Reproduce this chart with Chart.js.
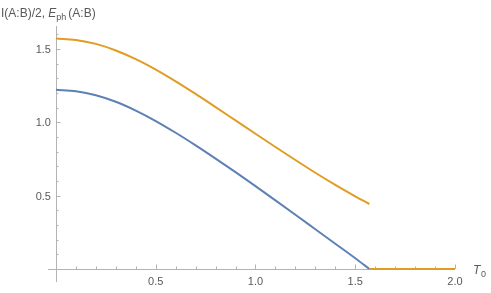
<!DOCTYPE html>
<html>
<head>
<meta charset="utf-8">
<script src="https://cdn.jsdelivr.net/npm/chart.js@4.4.1/dist/chart.umd.min.js"></script>
<style>
  html, body { margin: 0; padding: 0; background: #ffffff; }
  #wrap { width: 491px; height: 293px; }
</style>
</head>
<body>
<div id="wrap"><canvas id="chart" width="491" height="293"></canvas></div>
<script>
// values
const t0 = [0, 0.1, 0.2, 0.3, 0.4, 0.5, 0.6, 0.7, 0.8, 0.9, 1.0, 1.1, 1.2, 1.3, 1.4, 1.5, 1.5708];
const mutualHalf = [1.222, 1.212, 1.185, 1.140, 1.080, 1.009, 0.929, 0.843, 0.753, 0.660, 0.565, 0.468, 0.370, 0.271, 0.172, 0.073, 0];
const ePh = [1.571, 1.562, 1.535, 1.490, 1.431, 1.360, 1.280, 1.194, 1.104, 1.013, 0.922, 0.832, 0.743, 0.656, 0.573, 0.495, 0.443];
const tailT = [1.5708, 2.0];
const tailValues = [0, 0];

const xMajor = [0.5, 1.0, 1.5, 2.0];
const yMajor = [0.5, 1.0, 1.5];

const blue = "#5e81b5";
const orange = "#e19c24";
const axisGray = "#b3b3b3";
const labelGray = "#595959";
const font = "'Liberation Sans', Arial, sans-serif";

const toPoints = (xs, ys) => xs.map((x, i) => ({ x: x, y: ys[i] }));

// orange jumps to zero after t0 = pi/2, keep a gap there
const orangeData = toPoints(t0, ePh).concat([{ x: 1.5708, y: null }], toPoints(tailT, tailValues));
const blueData = toPoints(t0, mutualHalf);

const axesPlugin = {
  id: "mmaAxes",
  beforeDatasetsDraw(chart) {
    const ctx = chart.ctx;
    const xs = chart.scales.x;
    const ys = chart.scales.y;
    const area = chart.chartArea;
    const x0 = xs.getPixelForValue(0);
    const y0 = ys.getPixelForValue(0);

    ctx.save();
    ctx.strokeStyle = axisGray;
    ctx.lineWidth = 1;
    ctx.beginPath();
    ctx.moveTo(area.left, Math.round(y0) + 0.5);
    ctx.lineTo(area.right, Math.round(y0) + 0.5);
    ctx.moveTo(Math.round(x0) + 0.5, area.top);
    ctx.lineTo(Math.round(x0) + 0.5, area.bottom);

    // ticks point into the plot
    for (let i = 1; i <= 20; i++) {
      const v = i / 10;
      const px = Math.round(xs.getPixelForValue(v)) + 0.5;
      const len = i % 5 === 0 ? 4.5 : 2.5;
      ctx.moveTo(px, y0);
      ctx.lineTo(px, y0 - len);
    }
    for (let i = 1; i <= 16; i++) {
      const v = i / 10;
      const py = Math.round(ys.getPixelForValue(v)) + 0.5;
      const len = i % 5 === 0 ? 4.5 : 2.5;
      ctx.moveTo(x0, py);
      ctx.lineTo(x0 + len, py);
    }
    ctx.stroke();

    ctx.fillStyle = labelGray;
    ctx.font = "11px " + font;
    ctx.textAlign = "center";
    ctx.textBaseline = "top";
    xMajor.forEach(v => ctx.fillText(v.toFixed(1), xs.getPixelForValue(v), y0 + 8));
    ctx.textAlign = "right";
    ctx.textBaseline = "middle";
    yMajor.forEach(v => ctx.fillText(v.toFixed(1), x0 - 5, ys.getPixelForValue(v) + 1));

    // axis labels
    ctx.textAlign = "left";
    ctx.textBaseline = "alphabetic";
    let tx = 1;
    const ty = 17;
    ctx.font = "12px " + font;
    ctx.fillText("I(A:B)/2, ", tx, ty);
    tx += ctx.measureText("I(A:B)/2, ").width;
    ctx.font = "italic 12px " + font;
    ctx.fillText("E", tx, ty);
    tx += ctx.measureText("E").width;
    ctx.font = "9px " + font;
    ctx.fillText("ph", tx, ty + 3);
    tx += ctx.measureText("ph").width + 2;
    ctx.font = "12px " + font;
    ctx.fillText("(A:B)", tx, ty);

    ctx.font = "italic 12px " + font;
    ctx.fillText("T", 473, y0 + 5);
    ctx.font = "9px " + font;
    ctx.fillText("0", 481, y0 + 8);
    ctx.restore();
  }
};

new Chart(document.getElementById("chart"), {
  type: "scatter",
  data: {
    datasets: [
      {
        label: "I(A:B)/2",
        data: blueData,
        showLine: true,
        borderColor: blue,
        borderWidth: 2,
        pointRadius: 0,
        cubicInterpolationMode: "monotone",
        order: 2,
      },
      {
        label: "E_ph(A:B)",
        data: orangeData,
        showLine: true,
        spanGaps: false,
        borderColor: orange,
        borderWidth: 2,
        pointRadius: 0,
        cubicInterpolationMode: "monotone",
        order: 1,
      },
    ],
  },
  options: {
    responsive: false,
    animation: false,
    layout: { padding: { left: 48, right: 36, top: 26, bottom: 11 } },
    plugins: {
      legend: { display: false },
      tooltip: { enabled: false },
    },
    scales: {
      x: { type: "linear", min: -0.04, max: 2.0, display: false },
      y: { type: "linear", min: -0.089, max: 1.657, display: false },
    },
  },
  plugins: [axesPlugin],
});
</script>
</body>
</html>
